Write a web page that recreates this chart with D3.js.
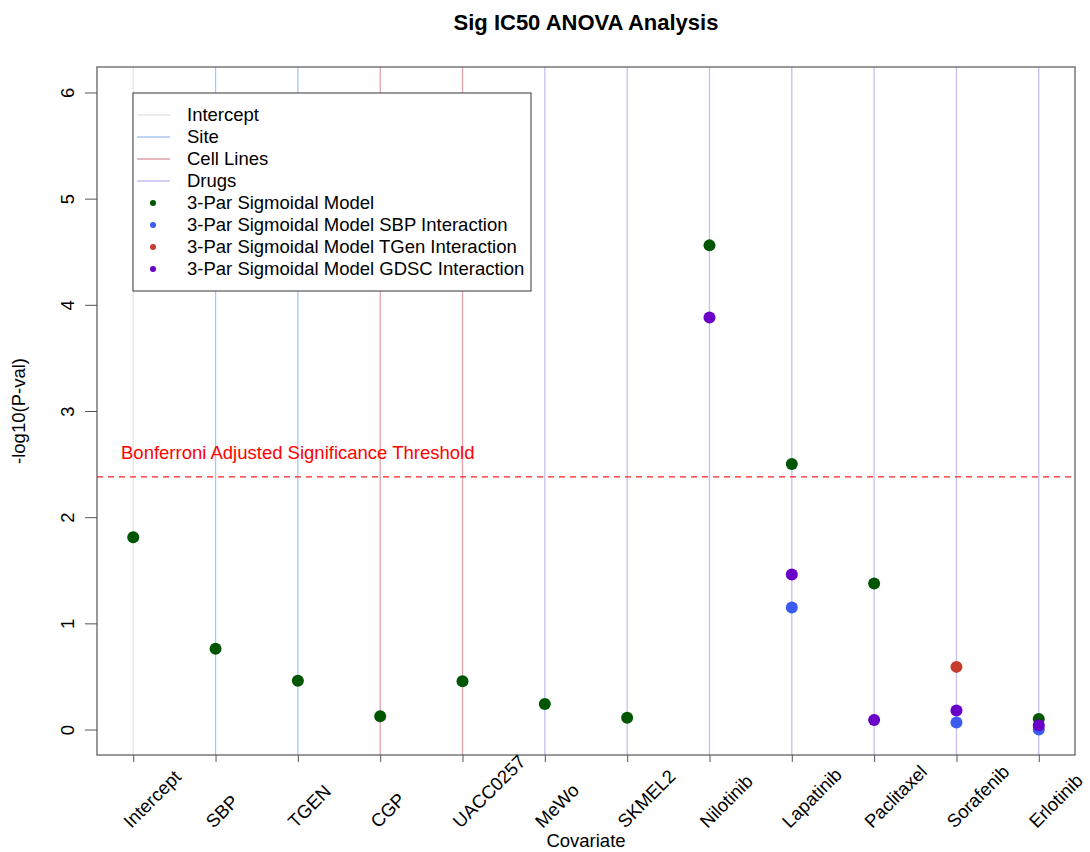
<!DOCTYPE html>
<html>
<head>
<meta charset="utf-8">
<script src="https://d3js.org/d3.v7.min.js"></script>
<style>
  body { margin: 0; background: #fff; }
  svg { font-family: "Liberation Sans", Arial, sans-serif; }
</style>
</head>
<body>
<div id="chart"></div>
<script>
// categories on the x axis
var covariates = ["Intercept", "SBP", "TGEN", "CGP", "UACC0257", "MeWo", "SKMEL2",
                  "Nilotinib", "Lapatinib", "Paclitaxel", "Sorafenib", "Erlotinib"];
// group of each vertical guide line
var lineGroup = ["Intercept", "Site", "Site", "Cell Lines", "Cell Lines", "Drugs", "Drugs",
                 "Drugs", "Drugs", "Drugs", "Drugs", "Drugs"];

// -log10(p) values, null = not shown
var modelVals = [1.81, 0.76, 0.46, 0.125, 0.455, 0.24, 0.11, 4.56, 2.50, 1.375, null, 0.10];
var sbpVals   = [null, null, null, null, null, null, null, null, 1.15, null, 0.065, 0.0];
var tgenVals  = [null, null, null, null, null, null, null, null, null, null, 0.59, null];
var gdscVals  = [null, null, null, null, null, null, null, 3.88, 1.46, 0.09, 0.18, 0.04];

var yTicks = [0, 1, 2, 3, 4, 5, 6];
var threshold = -Math.log10(0.05 / 12);

var lineColors = {"Intercept": "#e4e4e4", "Site": "#a9c6f2", "Cell Lines": "#dfa0aa", "Drugs": "#c3bff2"};
var series = [
    {name: "3-Par Sigmoidal Model", values: modelVals, color: "#005500"},
    {name: "3-Par Sigmoidal Model SBP Interaction", values: sbpVals, color: "#3c5cf0"},
    {name: "3-Par Sigmoidal Model TGen Interaction", values: tgenVals, color: "#c63b2c"},
    {name: "3-Par Sigmoidal Model GDSC Interaction", values: gdscVals, color: "#6a00c8"}
];

var width = 1090, height = 852;
var plotLeft = 97, plotRight = 1075, plotTop = 67, plotBottom = 755;
var fs = "18.5px";

var svg = d3.select("#chart").append("svg")
    .attr("width", width)
    .attr("height", height);

var x = d3.scaleLinear().domain([0.56, 12.44]).range([plotLeft, plotRight]);
var y = d3.scaleLinear().domain([-0.24, 6.24]).range([plotBottom, plotTop]);

// vertical guide lines
svg.append("g").selectAll("line")
    .data(covariates)
    .enter()
    .append("line")
    .attr("x1", (d, i) => x(i + 1))
    .attr("x2", (d, i) => x(i + 1))
    .attr("y1", plotTop)
    .attr("y2", plotBottom)
    .attr("stroke", (d, i) => lineColors[lineGroup[i]])
    .attr("stroke-width", 1.3);

// threshold
svg.append("line")
    .attr("x1", plotLeft).attr("x2", plotRight)
    .attr("y1", y(threshold)).attr("y2", y(threshold))
    .attr("stroke", "#ff2020")
    .attr("stroke-width", 1.3)
    .attr("stroke-dasharray", "6,5");

svg.append("text")
    .attr("x", 121)
    .attr("y", y(threshold) - 18)
    .attr("fill", "#ff0000")
    .style("font-size", fs)
    .text("Bonferroni Adjusted Significance Threshold");

// points
series.forEach(s => {
    svg.append("g").selectAll("circle")
        .data(s.values.map((v, i) => ({i: i, v: v})).filter(d => d.v !== null))
        .enter()
        .append("circle")
        .attr("cx", d => x(d.i + 1))
        .attr("cy", d => y(d.v))
        .attr("r", 6)
        .attr("fill", s.color);
});

// frame
svg.append("rect")
    .attr("x", plotLeft).attr("y", plotTop)
    .attr("width", plotRight - plotLeft).attr("height", plotBottom - plotTop)
    .attr("fill", "none")
    .attr("stroke", "#555")
    .attr("stroke-width", 1.2);

// y axis
var yAxis = svg.append("g")
    .attr("transform", `translate(${plotLeft - 12},0)`)
    .call(d3.axisLeft(y).tickValues(yTicks).tickSize(12).tickFormat(d3.format("d")));
yAxis.select(".domain").remove();
yAxis.selectAll(".tick line").attr("stroke", "#555").attr("transform", "translate(12,0)");
yAxis.selectAll(".tick text")
    .attr("x", 0).attr("y", 0).attr("dy", null)
    .attr("transform", "translate(-18,0) rotate(-90)")
    .attr("text-anchor", "middle")
    .attr("dominant-baseline", "central")
    .style("font-size", fs)
    .style("font-family", "Liberation Sans, Arial, sans-serif")
    .attr("fill", "#000");

// x axis
var xAxis = svg.append("g")
    .attr("transform", `translate(0,${plotBottom})`)
    .call(d3.axisBottom(x).tickValues(d3.range(1, 13)).tickSize(7).tickFormat(""));
xAxis.select(".domain").remove();
xAxis.selectAll(".tick line").attr("stroke", "#555");

svg.append("g").selectAll("text")
    .data(covariates)
    .enter()
    .append("text")
    .attr("transform", (d, i) => `translate(${x(i + 1) - 2},829) rotate(-45)`)
    .style("font-size", fs)
    .text(d => d);

// axis titles
svg.append("text")
    .attr("x", (plotLeft + plotRight) / 2)
    .attr("y", 847)
    .attr("text-anchor", "middle")
    .style("font-size", fs)
    .text("Covariate");

svg.append("text")
    .attr("transform", `translate(25,${(plotTop + plotBottom) / 2}) rotate(-90)`)
    .attr("text-anchor", "middle")
    .style("font-size", fs)
    .text("-log10(P-val)");

svg.append("text")
    .attr("x", (plotLeft + plotRight) / 2)
    .attr("y", 30)
    .attr("text-anchor", "middle")
    .style("font-size", "22px")
    .style("font-weight", "bold")
    .text("Sig IC50 ANOVA Analysis");

// legend
var legendItems = Object.keys(lineColors).map(k => ({name: k, type: "line", color: lineColors[k]}))
    .concat(series.map(s => ({name: s.name, type: "point", color: s.color})));

var legend = svg.append("g").attr("transform", "translate(133,93)");
legend.append("rect")
    .attr("width", 398).attr("height", 198)
    .attr("fill", "#fff")
    .attr("stroke", "#555")
    .attr("stroke-width", 1.2);

var rows = legend.selectAll(".row")
    .data(legendItems)
    .enter()
    .append("g")
    .attr("transform", (d, i) => `translate(0,${22 + i * 22})`);

rows.filter(d => d.type === "line")
    .append("line")
    .attr("x1", 4).attr("x2", 37)
    .attr("stroke", d => d.color)
    .attr("stroke-width", 1.3);

rows.filter(d => d.type === "point")
    .append("circle")
    .attr("cx", 20).attr("r", 3)
    .attr("fill", d => d.color);

rows.append("text")
    .attr("x", 54)
    .attr("dy", "0.35em")
    .style("font-size", fs)
    .text(d => d.name);
</script>
</body>
</html>
